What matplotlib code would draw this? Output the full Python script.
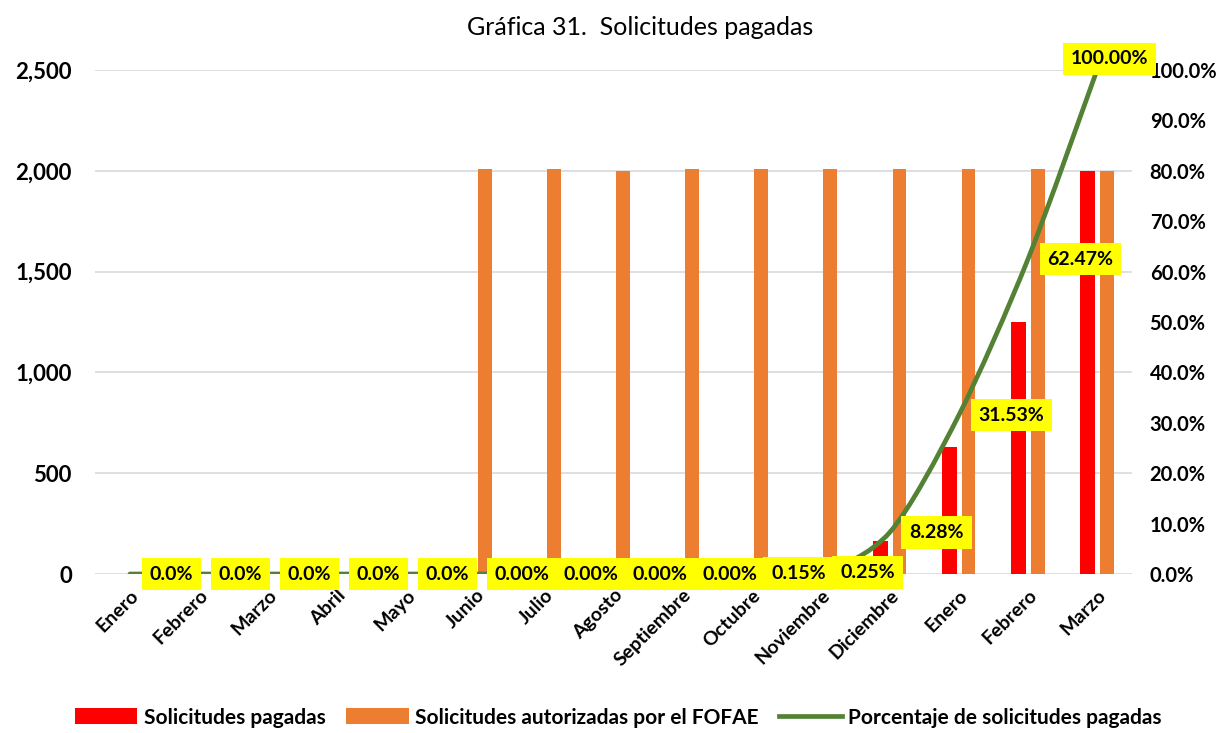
import matplotlib
matplotlib.use("Agg")
import matplotlib.pyplot as plt
from matplotlib.path import Path
from matplotlib.patches import PathPatch, Patch
from matplotlib.lines import Line2D
import numpy as np

plt.rcParams['font.family'] = ['Lato', 'DejaVu Sans']

months = ["Enero", "Febrero", "Marzo", "Abril", "Mayo", "Junio", "Julio", "Agosto",
          "Septiembre", "Octubre", "Noviembre", "Diciembre", "Enero", "Febrero", "Marzo"]
pagadas = [0, 0, 0, 0, 0, 0, 0, 0, 0, 3, 5, 166, 631, 1250, 2000]
autorizadas = [0, 0, 0, 0, 0, 2010, 2010, 2000, 2010, 2010, 2010, 2010, 2010, 2010, 2000]
porcentaje = [0.0, 0.0, 0.0, 0.0, 0.0, 0.0, 0.0, 0.0, 0.0, 0.15, 0.25, 8.28, 31.53, 62.47, 100.0]
pct_labels = ["0.0%", "0.0%", "0.0%", "0.0%", "0.0%", "0.00%", "0.00%", "0.00%", "0.00%",
              "0.15%", "0.25%", "8.28%", "31.53%", "62.47%", "100.00%"]

RED = "#FF0000"
ORANGE = "#ED7D31"
GREEN = "#548235"

fig = plt.figure(figsize=(12.22, 7.33), dpi=100)
ax = fig.add_axes([0.0781, 0.2169, 0.926 - 0.0781, 0.9045 - 0.2169])
ax2 = ax.twinx()

x = np.arange(len(months))
ax.bar(x - 0.135, pagadas, width=0.22, color=RED, zorder=3)
ax.bar(x + 0.14, autorizadas, width=0.2, color=ORANGE, zorder=3)

ax.set_xlim(-0.5, len(months) - 0.5)
ax.set_ylim(0, 2500)
ax.set_yticks(np.arange(0, 2501, 500))
ax.set_yticklabels([f"{v:,}" for v in range(0, 2501, 500)], fontsize=16, fontweight='bold')
ax.yaxis.grid(True, color="#D9D9D9", linewidth=1.2, zorder=0)
ax.set_axisbelow(True)
for s in ax.spines.values():
    s.set_visible(False)
ax.tick_params(axis='both', length=0)
ax.tick_params(axis='y', pad=17)
ax.set_xticks(x)
ax.set_xticklabels(months, rotation=45, ha='right', rotation_mode='anchor',
                   fontsize=14, fontweight='bold')
ax.tick_params(axis='x', pad=9)

# smoothed line drawn through the data points
ax2.set_ylim(0, 100)
ax2.set_xlim(ax.get_xlim())
px = x.astype(float)
py = np.array(porcentaje, dtype=float)
verts = [(px[0], py[0])]
codes = [Path.MOVETO]
n = len(px)
for i in range(n - 1):
    p0 = np.array([px[max(i - 1, 0)], py[max(i - 1, 0)]])
    p1 = np.array([px[i], py[i]])
    p2 = np.array([px[i + 1], py[i + 1]])
    p3 = np.array([px[min(i + 2, n - 1)], py[min(i + 2, n - 1)]])
    c1 = p1 + (p2 - p0) / 7.0
    c2 = p2 - (p3 - p1) / 7.0
    verts += [tuple(c1), tuple(c2), tuple(p2)]
    codes += [Path.CURVE4] * 3
ax2.add_patch(PathPatch(Path(verts, codes), facecolor='none', edgecolor=GREEN,
                        linewidth=3.4, capstyle='round', zorder=4))

ax2.set_yticks(np.arange(0, 101, 10))
ax2.set_yticklabels([f"{v:.1f}%" for v in range(0, 101, 10)], fontsize=14.5, fontweight='bold')
ax2.tick_params(axis='y', length=0, pad=13)
for s in ax2.spines.values():
    s.set_visible(False)

for i, (xv, yv, lab) in enumerate(zip(px, py, pct_labels)):
    if i == n - 1:
        off = (-19, 8)
    else:
        off = (14, 0)
    ax2.annotate(lab, (xv, yv), xytext=off, textcoords='offset points', ha='left', va='center',
                 fontsize=14, fontweight='bold', color='black', zorder=6,
                 bbox=dict(boxstyle='square,pad=0.4', facecolor='#FFFF00', edgecolor='none'))

fig.text(0.524, 0.962, "Gráfica 31.  Solicitudes pagadas", ha='center', va='center', fontsize=18)

handles = [Patch(facecolor=RED, edgecolor='none'),
           Patch(facecolor=ORANGE, edgecolor='none'),
           Line2D([0], [0], color=GREEN, linewidth=3.4)]
labels = ["Solicitudes pagadas", "Solicitudes autorizadas por el FOFAE",
          "Porcentaje de solicitudes pagadas"]
fig.legend(handles, labels, loc='center', bbox_to_anchor=(0.506, 0.021), ncol=3, frameon=False,
           prop={'size': 15, 'weight': 'bold'}, handlelength=3.0, handleheight=0.8,
           handletextpad=0.3, columnspacing=1.0)

fig.savefig("out.png", dpi=100)
